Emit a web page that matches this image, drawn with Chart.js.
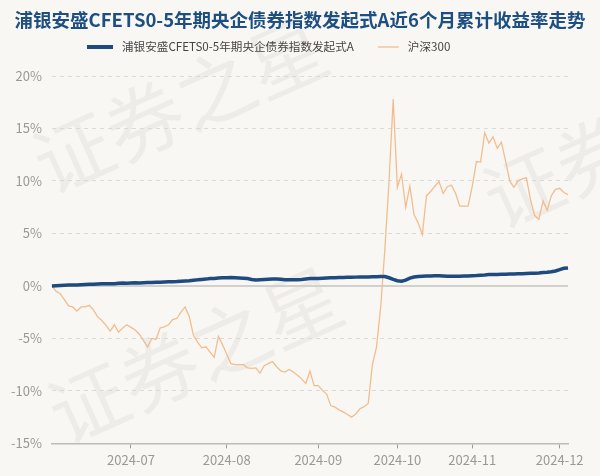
<!DOCTYPE html>
<html lang="zh">
<head>
  <meta charset="UTF-8" />
  <title>浦银安盛CFETS0-5年期央企债券指数发起式A近6个月累计收益率走势</title>
  <script src="https://cdn.jsdelivr.net/npm/chart.js"></script>
  <style>
    html, body { margin: 0; padding: 0; background: #f9f7f3; }
    #wrap { width: 600px; height: 476px; }
  </style>
</head>
<body>
<div id="wrap"><canvas id="trendChart"></canvas></div>
<script>
// 数据 (%)
const chartTitle = '浦银安盛CFETS0-5年期央企债券指数发起式A近6个月累计收益率走势';
const fundName = '浦银安盛CFETS0-5年期央企债券指数发起式A';
const indexName = '沪深300';
const startDay = '2024-06-03';
const endDay = '2024-12-04';
const holidays = ['2024-06-10', '2024-09-16', '2024-09-17', '2024-10-01', '2024-10-02',
  '2024-10-03', '2024-10-04', '2024-10-07'];
const yTicks = [-15, -10, -5, 0, 5, 10, 15, 20];

const fundValues = [
  0, 0.02, 0.04, 0.06, 0.08, 0.1, 0.1, 0.12, 0.14, 0.15,
  0.16, 0.18, 0.2, 0.22, 0.2, 0.22, 0.25, 0.27, 0.25, 0.28,
  0.3, 0.28, 0.3, 0.32, 0.33, 0.35, 0.36, 0.38, 0.4, 0.4,
  0.42, 0.45, 0.48, 0.5, 0.55, 0.58, 0.62, 0.65, 0.7, 0.72,
  0.75, 0.78, 0.78, 0.8, 0.78, 0.76, 0.74, 0.7, 0.62, 0.56,
  0.6, 0.62, 0.64, 0.65, 0.66, 0.64, 0.6, 0.6, 0.58, 0.6,
  0.62, 0.66, 0.7, 0.72, 0.72, 0.74, 0.76, 0.77, 0.78, 0.8,
  0.8, 0.82, 0.83, 0.84, 0.85, 0.86, 0.86, 0.87, 0.88, 0.9,
  0.9, 0.78, 0.62, 0.5, 0.45, 0.55, 0.75, 0.85, 0.9, 0.92,
  0.94, 0.95, 0.96, 0.96, 0.95, 0.93, 0.92, 0.92, 0.93, 0.94,
  0.95, 0.98, 1.0, 1.03, 1.05, 1.08, 1.1, 1.1, 1.12, 1.12,
  1.13, 1.14, 1.15, 1.16, 1.18, 1.2, 1.22, 1.24, 1.27, 1.3,
  1.35, 1.42, 1.55, 1.68, 1.72
];

const indexValues = [
  0, -0.5, -0.75, -1.3, -1.9, -2.0, -2.4, -2.0, -2.0, -1.85,
  -2.3, -2.95, -3.3, -3.75, -4.3, -3.7, -4.4, -4.0, -3.7, -3.95,
  -4.2, -4.6, -5.2, -5.8, -5.0, -5.1, -4.0, -3.9, -3.7, -3.2,
  -3.1, -2.5, -2.0, -2.9, -4.7, -5.35, -5.9, -5.8, -6.3, -6.8,
  -4.8, -5.6, -6.5, -7.4, -7.5, -7.5, -7.5, -7.8, -7.85, -7.8,
  -8.3, -7.6, -7.4, -7.2, -7.7, -8.1, -8.2, -7.95, -8.2, -8.5,
  -8.85, -9.3, -8.1, -9.5, -9.5, -9.95, -10.3, -11.4, -11.55, -11.8,
  -12.0, -12.25, -12.5, -12.2, -11.7, -11.5, -11.2, -7.5, -5.8, -2.0,
  3.5, 10.0, 17.8, 9.4, 10.65, 7.5, 9.5, 6.8, 6.0, 4.9,
  8.6, 9.0, 9.5, 9.95, 8.8, 9.45, 9.6, 8.8, 7.6, 7.6,
  7.6, 9.5, 11.85, 11.8, 14.6, 13.6, 14.2, 13.1, 13.7, 11.9,
  10.0, 9.4, 10.0, 10.2, 10.3, 8.2, 6.7, 6.35, 8.1, 7.2,
  8.6, 9.2, 9.3, 8.9, 8.7
];

// 交易日 (去掉周末和节假日)
function tradingDays(from, to) {
  const out = [];
  const d = new Date(from + 'T00:00:00Z');
  const end = new Date(to + 'T00:00:00Z');
  while (d <= end) {
    const s = d.toISOString().slice(0, 10);
    const wd = d.getUTCDay();
    if (wd !== 0 && wd !== 6 && !holidays.includes(s)) out.push(s);
    d.setUTCDate(d.getUTCDate() + 1);
  }
  return out;
}
const dates = tradingDays(startDay, endDay);

// 每月第一个交易日显示标签
function monthLabel(i) {
  if (i === 0) return null;
  const m = dates[i].slice(0, 7);
  return m !== dates[i - 1].slice(0, 7) ? m : null;
}

// 背景和水印
const watermark = {
  id: 'watermark',
  beforeDraw(chart) {
    const ctx = chart.ctx;
    ctx.save();
    ctx.fillStyle = '#f9f7f3';
    ctx.fillRect(0, 0, chart.width, chart.height);
    ctx.fillStyle = 'rgba(0, 0, 0, 0.045)';
    ctx.font = '78px "Noto Sans CJK SC"';
    ctx.textAlign = 'center';
    ctx.textBaseline = 'middle';
    [[180, 105], [195, 355], [630, 140]].forEach(([x, y]) => {
      ctx.save();
      ctx.translate(x, y);
      ctx.rotate(-0.42);
      ctx.fillText('证券之星', 0, 0);
      ctx.restore();
    });
    ctx.restore();
  }
};

// 标题和图例
const header = {
  id: 'header',
  afterDraw(chart) {
    const ctx = chart.ctx;
    ctx.save();
    ctx.textBaseline = 'middle';
    ctx.textAlign = 'center';
    ctx.fillStyle = '#1d4f83';
    ctx.font = 'bold 18.5px "Noto Sans CJK SC"';
    ctx.fillText(chartTitle, chart.width / 2, 20);

    ctx.textAlign = 'left';
    ctx.font = '11.6px "Noto Sans CJK SC"';
    let x = 87;
    const y = 47;
    chart.data.datasets.forEach((ds, i) => {
      const len = i === 0 ? 26 : 21;
      ctx.strokeStyle = ds.borderColor;
      ctx.lineWidth = i === 0 ? 4 : 1.3;
      ctx.beginPath();
      ctx.moveTo(x, y);
      ctx.lineTo(x + len, y);
      ctx.stroke();
      x += len + 9;
      ctx.fillStyle = '#444';
      ctx.fillText(ds.label, x, y);
      x += ctx.measureText(ds.label).width + 24;
    });
    ctx.restore();
  }
};

const ctx = document.getElementById('trendChart').getContext('2d');
new Chart(ctx, {
  type: 'line',
  data: {
    labels: dates,
    datasets: [
      {
        label: fundName,
        data: fundValues,
        borderColor: '#1d4b7f',
        borderWidth: 3.5,
        pointRadius: 0,
        tension: 0,
        order: 0
      },
      {
        label: indexName,
        data: indexValues,
        borderColor: '#f2bd8e',
        borderWidth: 1.3,
        pointRadius: 0,
        tension: 0,
        order: 1
      }
    ]
  },
  options: {
    responsive: true,
    maintainAspectRatio: false,
    animation: false,
    layout: { padding: { left: 1, right: 32, top: 76, bottom: 4 } },
    plugins: {
      title: { display: false },
      legend: { display: false },
      tooltip: { enabled: false }
    },
    scales: {
      x: {
        offset: false,
        border: { display: true, color: '#bbb', width: 1.5 },
        grid: {
          drawOnChartArea: false,
          drawTicks: true,
          tickLength: 5,
          tickColor: (c) => (c.tick && c.tick.label ? '#999' : 'rgba(0,0,0,0)')
        },
        ticks: {
          autoSkip: false,
          maxRotation: 0,
          color: '#999',
          font: { family: '"Noto Sans CJK SC"', size: 13 },
          padding: 4,
          callback: (v, i) => monthLabel(i)
        }
      },
      y: {
        min: -15,
        max: 20,
        afterBuildTicks: (axis) => { axis.ticks = yTicks.map(v => ({ value: v })); },
        border: {
          display: false,
          dash: (c) => (c.tick && c.tick.value === 0 ? [] : [4, 4])
        },
        grid: {
          drawTicks: false,
          color: (c) => (c.tick && c.tick.value === 0 ? '#d2d0cc' : '#dcdad6'),
          lineWidth: (c) => (c.tick && c.tick.value === 0 ? 2 : 1)
        },
        ticks: {
          color: '#999',
          font: { family: '"Noto Sans CJK SC"', size: 13 },
          padding: 10,
          callback: (v) => v + '%'
        }
      }
    }
  },
  plugins: [watermark, header]
});
</script>
</body>
</html>
